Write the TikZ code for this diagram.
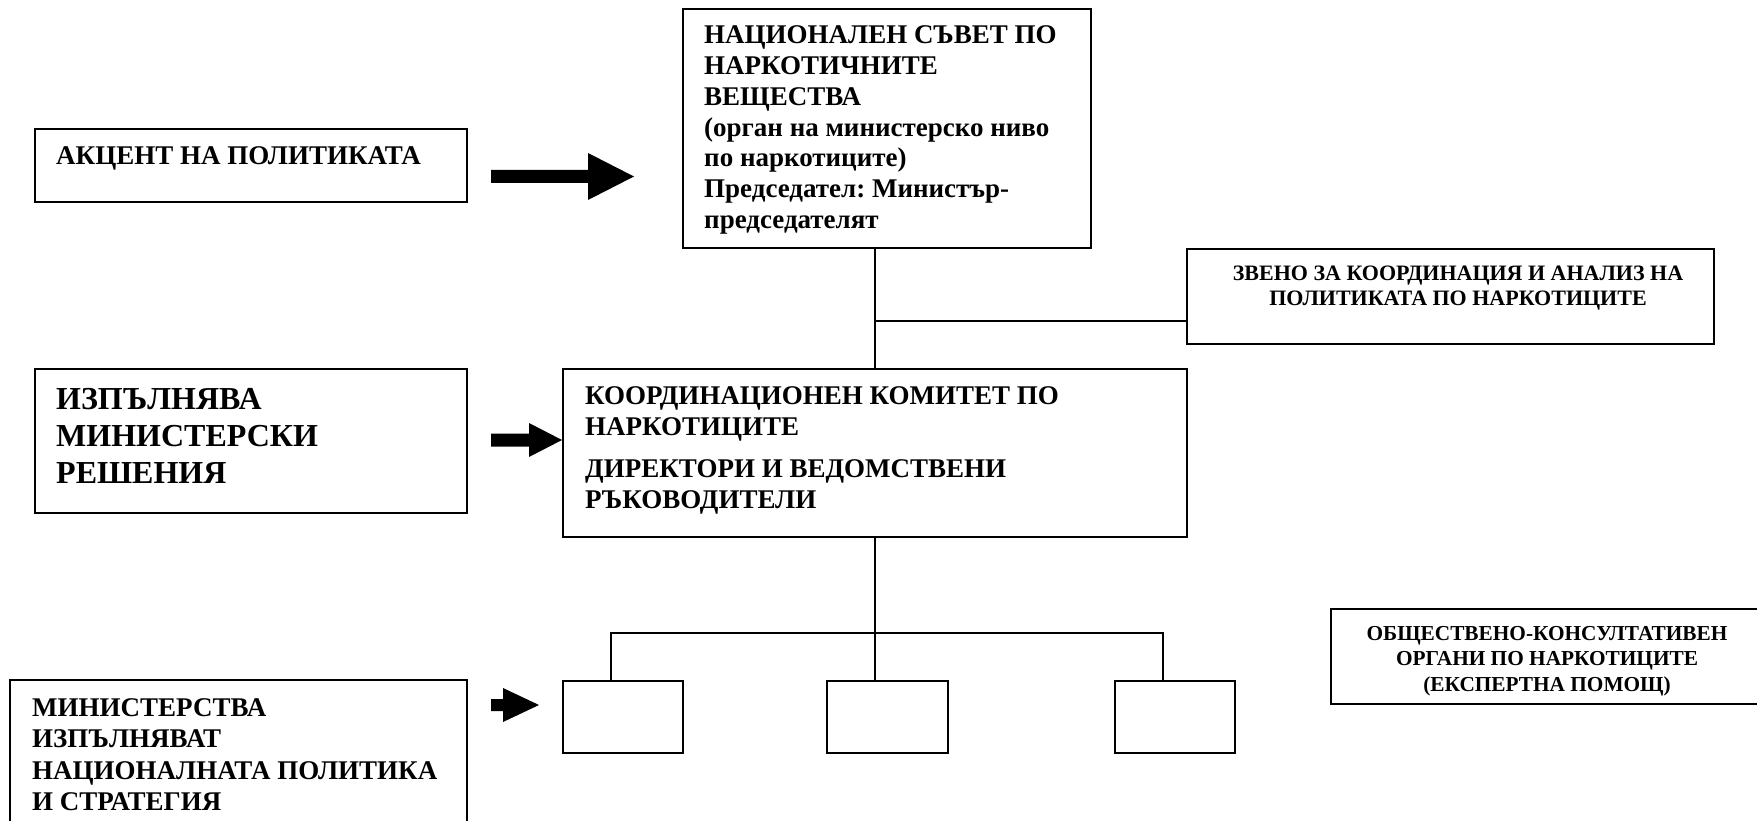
\documentclass[tikz,border=0pt]{standalone}
\usepackage{fontspec}
\setmainfont{Liberation Serif}
\frenchspacing
\begin{document}
\begin{tikzpicture}[x=1pt,y=-1pt,
  box/.style={draw, line width=1.8pt, inner sep=0pt, outer sep=0pt, anchor=north west},
  txt/.style={inner sep=0pt, anchor=base west, align=left, font=\bfseries\fontsize{27}{30.8}\selectfont},
  ctxt/.style={inner sep=0pt, anchor=base, align=center},
  link/.style={line width=1.8pt},
  blockarrow/.style={fill=black}]
\useasboundingbox (0,0) rectangle (1757,821);
\clip (0,0) rectangle (1757,821);
% boxes
\node[box, minimum width=432pt, minimum height=73pt]  (A) at (35,129) {};
\node[box, minimum width=408pt, minimum height=239pt] (N) at (683,9) {};
\node[box, minimum width=527pt, minimum height=95pt]  (Z) at (1187,249) {};
\node[box, minimum width=432pt, minimum height=144pt] (I) at (35,369) {};
\node[box, minimum width=624pt, minimum height=168pt] (K) at (563,369) {};
\node[box, minimum width=120pt, minimum height=72pt]  (s1) at (563,681) {};
\node[box, minimum width=121pt, minimum height=72pt]  (s2) at (827,681) {};
\node[box, minimum width=120pt, minimum height=72pt]  (s3) at (1115,681) {};
\node[box, minimum width=460pt, minimum height=95pt]  (O) at (1331,609) {};
\node[box, minimum width=457pt, minimum height=170pt] (M) at (10,680) {};
% texts (anchored at the baseline of the last line)
\node[txt] (tA) at (56,165) {АКЦЕНТ НА ПОЛИТИКАТА};
\node[txt] (tN) at (704,228.5) {НАЦИОНАЛЕН СЪВЕТ ПО\\НАРКОТИЧНИТЕ\\ВЕЩЕСТВА\\(орган на министерско ниво\\по наркотиците)\\Председател: Министър-\\председателят};
\node[ctxt, font=\bfseries\fontsize{22}{25.5}\selectfont] (tZ) at (1458,305.5) {ЗВЕНО ЗА КООРДИНАЦИЯ И АНАЛИЗ НА\\ПОЛИТИКАТА ПО НАРКОТИЦИТЕ};
\node[txt, font=\bfseries\fontsize{32}{37}\selectfont] (tI) at (56,483) {ИЗПЪЛНЯВА\\МИНИСТЕРСКИ\\РЕШЕНИЯ};
\node[txt, font=\bfseries\fontsize{27}{31}\selectfont] (tK) at (585,508) {КООРДИНАЦИОНЕН КОМИТЕТ ПО\\НАРКОТИЦИТЕ\\[11pt]ДИРЕКТОРИ И ВЕДОМСТВЕНИ\\РЪКОВОДИТЕЛИ};
\node[ctxt, font=\bfseries\fontsize{21.3}{25.5}\selectfont] (tO) at (1547,691) {ОБЩЕСТВЕНО-КОНСУЛТАТИВЕН\\ОРГАНИ ПО НАРКОТИЦИТЕ\\(ЕКСПЕРТНА ПОМОЩ)};
\node[txt, font=\bfseries\fontsize{27}{31.5}\selectfont] (tM) at (32,810.5) {МИНИСТЕРСТВА\\ИЗПЪЛНЯВАТ\\НАЦИОНАЛНАТА ПОЛИТИКА\\И СТРАТЕГИЯ};
% connectors
\coordinate (j1) at (875,321);
\coordinate (bus) at (875,633);
\coordinate (t1) at (611,681);
\coordinate (t2) at (875,681);
\coordinate (t3) at (1163,681);
\draw[link] (N.south -| K.north) -- (K.north);
\draw[link] (j1) -- (j1 -| Z.west);
\draw[link] (K.south) -- (bus) -- (t2);
\draw[link] (t1) |- (bus) -| (t3);
% block arrows
\fill[blockarrow] (491,170) -- (588,170) -- (588,153) -- (634,176.5) -- (588,200) -- (588,183) -- (491,183) -- cycle;
\fill[blockarrow] (491,433.5) -- (529,433.5) -- (529,423) -- (562,440) -- (529,457) -- (529,446.5) -- (491,446.5) -- cycle;
\fill[blockarrow] (491,699) -- (503,699) -- (503,688) -- (539,705) -- (503,722) -- (503,711) -- (491,711) -- cycle;
\end{tikzpicture}
\end{document}
